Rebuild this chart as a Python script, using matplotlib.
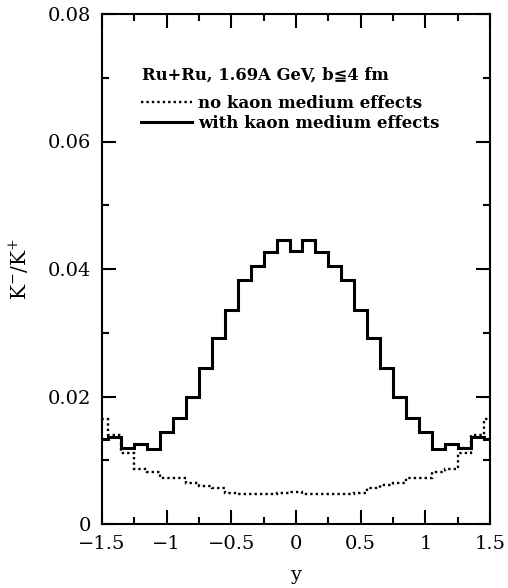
import numpy as np
import matplotlib
matplotlib.use("Agg")
import matplotlib.pyplot as plt
from matplotlib.ticker import MultipleLocator

plt.rcParams['font.family'] = ['DejaVu Serif', 'DejaVu Sans']
plt.rcParams['mathtext.fontset'] = 'dejavuserif'

# rapidity bin centres (width 0.1)
y_centers = np.round(np.arange(-1.5, 1.51, 0.1), 2)

# K-/K+ with kaon medium effects (solid)
ratio_medium = [0.0133, 0.0137, 0.0120, 0.0126, 0.0118, 0.0145, 0.0167, 0.0199,
                0.0245, 0.0291, 0.0335, 0.0383, 0.0405, 0.0426, 0.0446, 0.0429,
                0.0446, 0.0426, 0.0405, 0.0383, 0.0335, 0.0291, 0.0245, 0.0199,
                0.0167, 0.0145, 0.0118, 0.0126, 0.0120, 0.0137, 0.0133]

# K-/K+ without kaon medium effects (dotted)
ratio_free = [0.0164, 0.0140, 0.0112, 0.0086, 0.0082, 0.0072, 0.0072, 0.0064,
              0.0060, 0.0057, 0.0049, 0.0047, 0.0047, 0.0047, 0.0048, 0.0050,
              0.0047, 0.0047, 0.0047, 0.0047, 0.0049, 0.0057, 0.0061, 0.0064,
              0.0072, 0.0072, 0.0082, 0.0087, 0.0112, 0.0140, 0.0164]

x_ticks = [-1.5, -1, -0.5, 0, 0.5, 1, 1.5]
x_ticklabels = ['\u22121.5', '\u22121', '\u22120.5', '0', '0.5', '1', '1.5']
y_ticks = [0, 0.02, 0.04, 0.06, 0.08]
y_ticklabels = ['0', '0.02', '0.04', '0.06', '0.08']

edges = np.concatenate([y_centers - 0.05, [y_centers[-1] + 0.05]])

fig = plt.figure(figsize=(5.08, 5.88), dpi=100)
ax = fig.add_axes([102 / 508, 64 / 588, 388 / 508, 510 / 588])

ax.stairs(ratio_free, edges, baseline=None, color='black', lw=1.7,
          linestyle=(0, (1, 1.3)), label='no kaon medium effects')
ax.stairs(ratio_medium, edges, baseline=None, color='black', lw=2.2,
          label='with kaon medium effects')

ax.set_xlim(-1.5, 1.5)
ax.set_ylim(0, 0.08)
ax.set_xticks(x_ticks)
ax.set_xticklabels(x_ticklabels)
ax.set_yticks(y_ticks)
ax.set_yticklabels(y_ticklabels)
ax.xaxis.set_minor_locator(MultipleLocator(0.25))
ax.yaxis.set_minor_locator(MultipleLocator(0.01))
ax.tick_params(which='both', direction='in', top=True, right=True, width=1.5,
               labelsize=14)
ax.tick_params(which='major', length=10)
ax.tick_params(which='minor', length=5)
ax.tick_params(axis='x', pad=8)
ax.tick_params(axis='y', pad=8)
for s in ax.spines.values():
    s.set_linewidth(1.5)

ax.set_xlabel('y', fontsize=14)
ax.set_ylabel(r'K$^{-}$/K$^{+}$', fontsize=14.5)
ax.xaxis.set_label_coords(0.5, -0.082)
ax.yaxis.set_label_coords(-0.182, 0.5)

ax.text(0.102, 0.880, 'Ru+Ru, 1.69A GeV, b\u22664 fm', transform=ax.transAxes,
        fontsize=11.8, fontweight='bold', va='center', ha='left')
ax.legend(loc='upper left', bbox_to_anchor=(0.1, 0.842), frameon=False,
          prop={'size': 12, 'weight': 'bold'}, handlelength=3.06,
          handletextpad=0.36, labelspacing=0.18, borderpad=0, borderaxespad=0)

fig.savefig('out.png', dpi=100)
